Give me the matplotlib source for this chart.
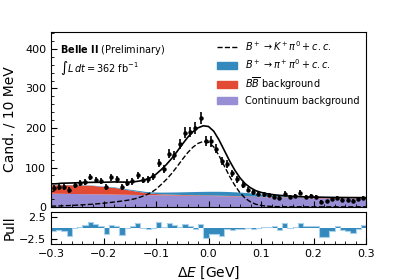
import matplotlib
matplotlib.use("Agg")

import numpy as np
import matplotlib.pyplot as plt
from matplotlib.patches import Patch
from matplotlib.lines import Line2D
from matplotlib.ticker import MultipleLocator

# ============================================================
# DATA
# ============================================================

# data points, 10 MeV bins from -0.3 to 0.3 GeV
data_counts = [48, 51, 50, 43, 55, 60, 64, 76, 68, 66,
               51, 75, 70, 50, 62, 65, 80, 68, 70, 78,
               111, 97, 135, 131, 160, 188, 190, 200, 225, 167,
               166, 148, 116, 108, 85, 70, 55, 44, 37, 33,
               32, 30, 26, 24, 34, 26, 28, 36, 26, 28,
               26, 13, 15, 19, 24, 18, 18, 16, 20, 24]

pulls = [-0.7, -0.5, -0.6, -2.0, -0.1, 0.3, 0.8, 1.4, 0.9, 0.5,
         -1.5, 0.8, 0.5, -1.6, -0.1, 0.5, 1.3, -0.1, -0.3, 0.1,
         1.5, 0.3, 1.2, 0.6, 0.2, 1.0, 0.5, -0.3, 0.9, -2.3,
         -1.4, -1.4, -1.8, -0.2, -0.4, -0.3, -0.2, -0.1, -0.2, 0.1,
         0.2, 0.2, 0.5, -0.4, 1.1, 0.1, 0.2, 1.2, 0.4, 0.4,
         0.4, -2.1, -2.1, -0.8, 0.5, -0.5, -0.6, -1.3, -0.2, 0.8]

# fit components, sampled every 10 MeV from -0.30 to 0.30
continuum = [35, 34.8, 34.6, 34.4, 34.2, 34.0, 33.8, 33.6, 33.4, 33.2, 33.0,
             32.8, 32.6, 32.4, 32.2, 32.0, 31.8, 31.6, 31.4, 31.2, 31.0,
             30.8, 30.6, 30.4, 30.2, 30.0, 29.8, 29.6, 29.4, 29.2, 29.0,
             28.8, 28.6, 28.3, 28.0, 27.7, 27.4, 27.1, 26.8, 26.5, 26.2,
             25.9, 25.6, 25.3, 25.0, 24.7, 24.4, 24.1, 23.8, 23.5, 23.3,
             23.1, 22.9, 22.7, 22.5, 22.4, 22.3, 22.2, 22.1, 22.0, 22.0]

bbbar = [21, 21, 22, 22, 22, 22, 22, 21.5, 21, 20, 19,
         18, 17, 15, 13, 11, 9, 7, 5, 4, 3,
         2.5, 2.2, 2.0, 1.8, 1.7, 1.6, 1.5, 1.5, 1.4, 1.4,
         1.3, 1.3, 1.2, 1.2, 1.2, 1.1, 1.1, 1.1, 1.0, 1.0,
         1.0, 1.0, 1.0, 1.0, 1.0, 1.0, 1.0, 1.0, 1.0, 1.0,
         1.0, 1.0, 1.0, 1.0, 1.0, 1.0, 1.0, 1.0, 1.0, 1.0]

pipi0 = [0.5, 0.5, 0.5, 0.6, 0.6, 0.7, 0.7, 0.8, 0.9, 1.0, 1.1,
         1.2, 1.4, 1.6, 1.8, 2.0, 2.3, 2.6, 3.0, 3.4, 3.9,
         4.4, 5.0, 5.6, 6.2, 6.8, 7.4, 8.0, 8.5, 9.0, 9.4,
         9.7, 9.9, 10.0, 9.9, 9.6, 9.2, 8.6, 7.8, 6.8, 5.8,
         4.8, 3.9, 3.0, 2.3, 1.7, 1.3, 1.0, 0.8, 0.6, 0.5,
         0.4, 0.4, 0.3, 0.3, 0.3, 0.3, 0.3, 0.3, 0.3, 0.3]

kpi0 = [2.0, 2.5, 3.0, 3.5, 4.0, 4.7, 5.5, 6.3, 7.2, 8.3, 9.5,
        11.0, 12.5, 14.2, 16.0, 18.0, 21.0, 25.0, 30.0, 36.0, 45.0,
        57, 70, 85, 102, 120, 137, 151, 161, 166, 164,
        152, 130, 104, 78, 55, 36, 22, 13, 7, 4,
        2.2, 1.3, 0.9, 0.7, 0.6, 0.5, 0.5, 0.4, 0.4, 0.4,
        0.4, 0.4, 0.4, 0.4, 0.4, 0.4, 0.4, 0.4, 0.4, 0.4]

# ============================================================
# SETTINGS
# ============================================================

c_blue = "#348ABD"
c_red = "#E24A33"
c_purple = "#988ED5"
c_pull_edge = "#a9d1ec"

plt.rcParams["font.family"] = "DejaVu Sans"

bin_w = 0.01
centers = -0.3 + bin_w / 2 + bin_w * np.arange(len(data_counts))
edges = -0.3 + bin_w * np.arange(len(data_counts) + 1)
x_fit = np.round(np.linspace(-0.3, 0.3, len(continuum)), 3)

cont = np.array(continuum)
bb = np.array(bbbar)
pp = np.array(pipi0)
sig = np.array(kpi0)
total = cont + bb + pp + sig

counts = np.array(data_counts)
errs = np.sqrt(counts)

# ============================================================
# PLOT
# ============================================================

fig = plt.figure(figsize=(4.07, 2.80), dpi=100)
ax = fig.add_axes([0.1253, 0.2607, 0.774, 0.625])
axp = fig.add_axes([0.1253, 0.1286, 0.774, 0.1143], sharex=ax)

# stacked backgrounds
ax.fill_between(x_fit, 0, cont, color=c_purple, lw=0)
ax.fill_between(x_fit, cont, cont + bb, color=c_red, lw=0)
ax.fill_between(x_fit, cont + bb, cont + bb + pp, color=c_blue, lw=0)

ax.plot(x_fit, sig, color="black", ls="--", lw=1.0)
ax.plot(x_fit, total, color="black", lw=1.2)

ax.errorbar(centers, counts, yerr=errs, fmt="o", color="black",
            markersize=2.2, elinewidth=1.2, capsize=0)

ax.set_xlim(-0.3, 0.3)
ax.set_ylim(0, 443)
ax.set_ylabel("Cand. / 10 MeV", fontsize=10)
ax.yaxis.set_label_coords(-0.11, 0.5)
ax.yaxis.set_major_locator(MultipleLocator(100))
ax.yaxis.set_minor_locator(MultipleLocator(20))
ax.xaxis.set_major_locator(MultipleLocator(0.1))
ax.xaxis.set_minor_locator(MultipleLocator(0.02))
ax.tick_params(axis="both", which="both", direction="in", labelsize=8)
ax.tick_params(which="major", length=4)
ax.tick_params(which="minor", length=2)
ax.tick_params(axis="x", labelbottom=False)

ax.text(0.03, 0.935, r"$\mathbf{Belle\ II}$ (Preliminary)",
        transform=ax.transAxes, fontsize=7, va="top")
ax.text(0.03, 0.845, r"$\int L\,dt = 362$ fb$^{-1}$",
        transform=ax.transAxes, fontsize=7, va="top")

handles = [
    Line2D([], [], color="black", ls="--", lw=1.0),
    Patch(color=c_blue),
    Patch(color=c_red),
    Patch(color=c_purple),
]
labels = [
    r"$B^+ \to K^+ \pi^0 + c.c.$",
    r"$B^+ \to \pi^+ \pi^0 + c.c.$",
    r"$B\overline{B}$ background",
    "Continuum background",
]
ax.legend(handles, labels, loc="upper right", fontsize=7, frameon=False,
          handlelength=2.0, borderaxespad=0.3, labelspacing=0.45)

# pull panel
axp.bar(centers, pulls, width=bin_w, color=c_blue, lw=0)
axp.stairs(pulls, edges, color=c_pull_edge, lw=0.8, baseline=None)
axp.set_ylim(-3.8, 3.8)
axp.set_yticks([-2.5, 2.5])
axp.set_ylabel("Pull", fontsize=10)
axp.yaxis.set_label_coords(-0.11, 0.5)
axp.set_xlabel(r"$\Delta E$ [GeV]", fontsize=10)
axp.tick_params(axis="both", which="both", direction="in", labelsize=8)
axp.tick_params(which="major", length=4)
axp.tick_params(which="minor", length=2)

fig.savefig("out.png", dpi=100)
plt.close(fig)
